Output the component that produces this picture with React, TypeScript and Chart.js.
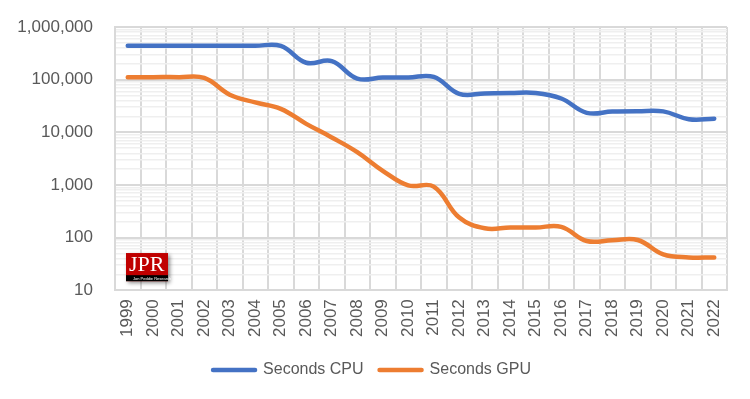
import React, { useEffect, useRef } from 'react';
import { Chart, registerables } from 'chart.js';

Chart.register(...registerables);

const years = ['1999', '2000', '2001', '2002', '2003', '2004', '2005', '2006', '2007', '2008', '2009', '2010',
  '2011', '2012', '2013', '2014', '2015', '2016', '2017', '2018', '2019', '2020', '2021', '2022'];

const secondsCPU = [440000, 440000, 440000, 440000, 440000, 440000, 440000, 210000, 225000, 105000, 110000, 110000,
  113000, 54000, 55000, 56000, 56000, 44000, 23500, 24800, 25200, 25000, 17800, 18200];

const secondsGPU = [112000, 112000, 112000, 108000, 52000, 37000, 28000, 14500, 8000, 4200, 1860, 980,
  930, 240, 150, 155, 155, 160, 86, 89, 90, 48, 42, 42];

const majorTicks = [10, 100, 1000, 10000, 100000, 1000000];

const logoPlugin = {
  id: 'jprLogo',
  afterDraw(chart: any) {
    const { ctx, chartArea } = chart;
    const x = chartArea.left + 11;
    const y = chartArea.bottom - 37;
    ctx.save();
    ctx.shadowColor = 'rgba(0,0,0,0.45)';
    ctx.shadowBlur = 4;
    ctx.shadowOffsetX = 2;
    ctx.shadowOffsetY = 2;
    ctx.fillStyle = '#c00000';
    ctx.fillRect(x, y, 42, 28);
    ctx.shadowColor = 'transparent';
    ctx.fillStyle = '#c00000';
    ctx.fillRect(x, y, 42, 22);
    ctx.fillStyle = '#000000';
    ctx.fillRect(x, y + 22, 42, 6);
    ctx.fillStyle = '#ffffff';
    ctx.textBaseline = 'alphabetic';
    ctx.font = '22px "Liberation Serif"';
    ctx.fillText('JPR', x + 3, y + 18);
    ctx.font = '4px "Liberation Sans"';
    ctx.fillText('Jon Peddie Research', x + 7, y + 27);
    ctx.restore();
  },
};

export default function App() {
  const canvasRef = useRef<HTMLCanvasElement | null>(null);

  useEffect(() => {
    document.body.style.margin = '0';
    const canvas = canvasRef.current;
    if (!canvas) return;

    const allTicks: number[] = [];
    for (let i = 0; i < majorTicks.length; i++) {
      const d = majorTicks[i];
      allTicks.push(d);
      if (i < majorTicks.length - 1) {
        for (let m = 2; m <= 9; m++) allTicks.push(d * m);
      }
    }
    const isMajor = (v: number) => majorTicks.includes(v);

    const chart = new Chart(canvas, {
      type: 'line',
      data: {
        labels: years,
        datasets: [
          {
            label: 'Seconds CPU',
            data: secondsCPU,
            borderColor: '#4472C4',
            backgroundColor: '#4472C4',
            borderWidth: 4.5,
            pointRadius: 0,
            tension: 0.4,
            borderCapStyle: 'round',
            borderJoinStyle: 'round',
          },
          {
            label: 'Seconds GPU',
            data: secondsGPU,
            borderColor: '#ED7D31',
            backgroundColor: '#ED7D31',
            borderWidth: 4.5,
            pointRadius: 0,
            tension: 0.4,
            borderCapStyle: 'round',
            borderJoinStyle: 'round',
          },
        ],
      },
      options: {
        responsive: false,
        animation: false,
        layout: { padding: { top: 9, left: 17, right: 23, bottom: 11 } },
        plugins: {
          legend: {
            position: 'bottom',
            labels: {
              color: '#595959',
              font: { family: '"Liberation Sans", sans-serif', size: 16 },
              boxWidth: 42,
              boxHeight: 0,
              padding: 16,
            },
          },
          tooltip: { enabled: false },
        },
        scales: {
          x: {
            offset: true,
            grid: { offset: true, color: '#d9d9d9', lineWidth: 2, drawTicks: false },
            border: { display: true, color: '#d9d9d9', width: 2 },
            ticks: {
              color: '#595959',
              font: { family: '"Liberation Sans", sans-serif', size: 17 },
              minRotation: 90,
              maxRotation: 90,
              autoSkip: false,
              padding: 9,
            },
          },
          y: {
            type: 'logarithmic',
            min: 10,
            max: 1000000,
            afterBuildTicks: (scale: any) => {
              scale.ticks = allTicks.map((v) => ({ value: v, major: isMajor(v) }));
            },
            afterFit: (scale: any) => {
              scale.width = 98;
            },
            grid: {
              drawTicks: false,
              color: (ctx: any) => (ctx.tick && isMajor(ctx.tick.value) ? '#d9d9d9' : '#efefef'),
              lineWidth: (ctx: any) => (ctx.tick && isMajor(ctx.tick.value) ? 2 : 1.5),
            },
            border: { display: true, color: '#d9d9d9', width: 2 },
            ticks: {
              autoSkip: false,
              color: '#595959',
              font: { family: '"Liberation Sans", sans-serif', size: 17, lineHeight: 0.6 },
              padding: 22,
              callback: (v: any) => (isMajor(Number(v)) ? Number(v).toLocaleString('en-US') : ''),
            },
          },
        },
      },
      plugins: [logoPlugin],
    } as any);

    return () => chart.destroy();
  }, []);

  return (
    <div style={{ width: 750, height: 399 }}>
      <canvas ref={canvasRef} width={750} height={399} />
    </div>
  );
}
